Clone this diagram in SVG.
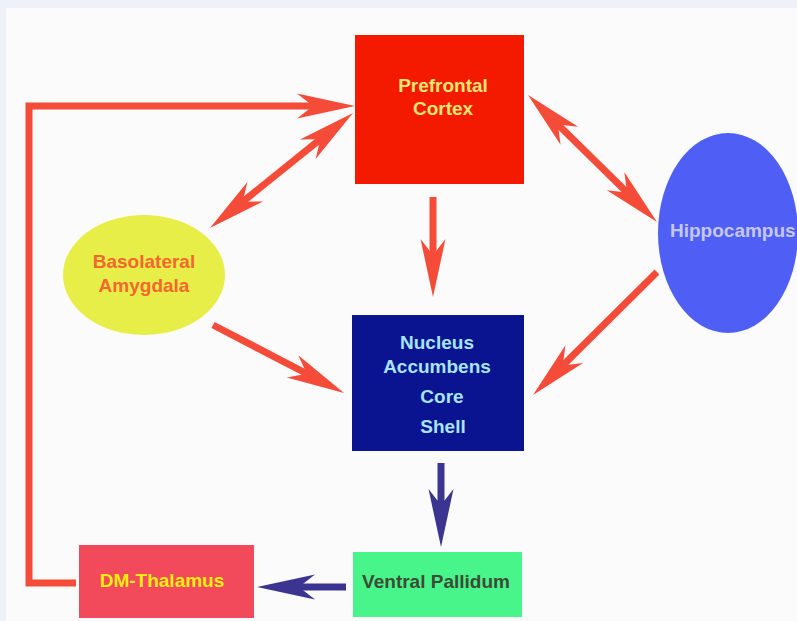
<svg xmlns="http://www.w3.org/2000/svg" width="797" height="621" viewBox="0 0 797 621">
<style>
.lbl{font-family:"Liberation Sans",Arial,sans-serif;font-weight:bold;font-size:19px;text-anchor:middle}
.red{fill:none;stroke:#f54c3a;stroke-width:7;stroke-linejoin:miter}
.blue{fill:none;stroke:#3b3490;stroke-width:7}
</style>
<defs>
<marker id="hr" viewBox="-60 -14 62 28" markerWidth="62" markerHeight="28" refX="-38" refY="0" orient="auto-start-reverse" markerUnits="userSpaceOnUse" overflow="visible">
<path d="M0,0 L-58,-12.5 L-42,0 L-58,12.5 Z" fill="#f54c3a"/>
</marker>
<marker id="hb" viewBox="-60 -14 62 28" markerWidth="62" markerHeight="28" refX="-38" refY="0" orient="auto-start-reverse" markerUnits="userSpaceOnUse" overflow="visible">
<path d="M0,0 L-58,-12.5 L-42,0 L-58,12.5 Z" fill="#3b3490"/>
</marker>
</defs>
<rect x="0" y="0" width="797" height="621" fill="#eef1f8"/>
<rect x="6" y="8" width="791" height="613" fill="#fbfbfb"/>

<g id="connectors">
<path class="red" d="M76,583 H29 V106 H317" marker-end="url(#hr)"/>
<path class="red" d="M239.6,204.2 L323.4,136.8" marker-start="url(#hr)" marker-end="url(#hr)"/>
<path class="red" d="M555.1,121.7 L629.9,195.3" marker-start="url(#hr)" marker-end="url(#hr)"/>
<path class="red" d="M657,272 L560,368.2" marker-end="url(#hr)"/>
<path class="red" d="M213,325 L310.3,375.5" marker-end="url(#hr)"/>
<path class="red" d="M433,197 L433,259" marker-end="url(#hr)"/>
<path class="blue" d="M441,463 L441,509" marker-end="url(#hb)"/>
<path class="blue" d="M346,587 L295,587" marker-end="url(#hb)"/>
</g>

<g id="pfc">
<rect x="355" y="35" width="169" height="149" fill="#f41a00"/>
<text class="lbl" x="443" y="92" fill="#f2e572">Prefrontal</text>
<text class="lbl" x="443" y="115" fill="#f2e572">Cortex</text>
</g>

<g id="bla">
<ellipse cx="144" cy="275" rx="81" ry="60" fill="#e8ee48"/>
<text class="lbl" x="144" y="268" fill="#f2682e">Basolateral</text>
<text class="lbl" x="144" y="292" fill="#f2682e">Amygdala</text>
</g>

<g id="hippocampus">
<ellipse cx="728" cy="233" rx="70" ry="100" fill="#4f5ff5"/>
<text class="lbl" x="670" y="237" fill="#c5c8ee" style="text-anchor:start">Hippocampus</text>
</g>

<g id="nac">
<rect x="352" y="315" width="172" height="136" fill="#0a1490"/>
<text class="lbl" x="437" y="349" fill="#a8e4f5">Nucleus</text>
<text class="lbl" x="437" y="373" fill="#a8e4f5">Accumbens</text>
<text class="lbl" x="442" y="403" fill="#a8e4f5">Core</text>
<text class="lbl" x="443" y="433" fill="#a8e4f5">Shell</text>
</g>

<g id="vp">
<rect x="353" y="552" width="169" height="65" fill="#48f58a"/>
<text class="lbl" x="436" y="588" fill="#3d4a35">Ventral Pallidum</text>
</g>

<g id="dm">
<rect x="79" y="545" width="175" height="73" fill="#f24a5a"/>
<text class="lbl" x="162" y="587" fill="#f7ee10">DM-Thalamus</text>
</g>
</svg>
